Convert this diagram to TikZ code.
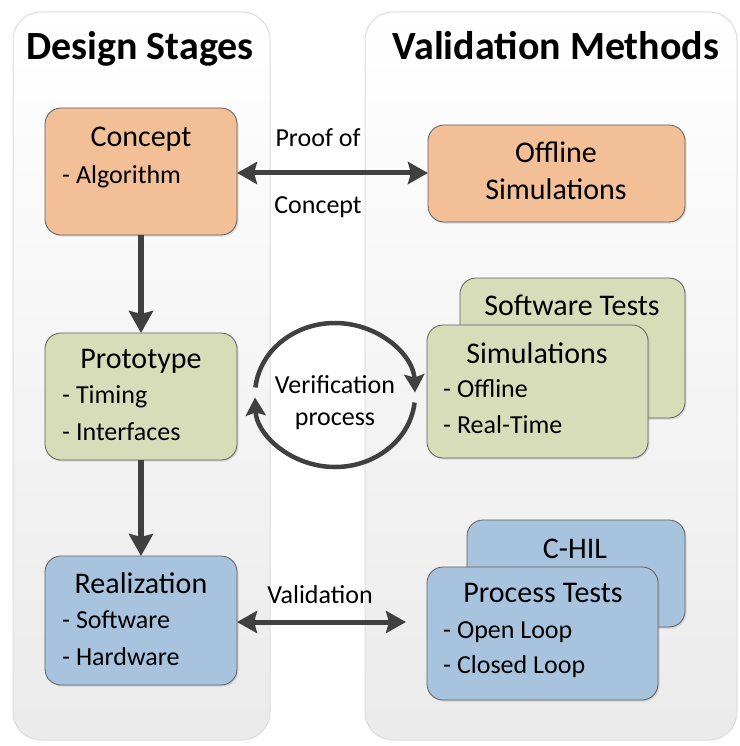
\documentclass[tikz,border=0pt]{standalone}
\usepackage{fontspec}
\setmainfont{Carlito}
\usetikzlibrary{arrows.meta,shadows}
\definecolor{orangefill}{RGB}{243,191,151}
\definecolor{greenfill}{RGB}{216,221,185}
\definecolor{bluefill}{RGB}{167,195,222}
\definecolor{boxline}{RGB}{95,95,95}
\definecolor{arrowcol}{RGB}{64,64,64}
\definecolor{panelline}{RGB}{220,220,220}
\tikzset{
  panel/.style={draw=panelline, line width=1pt, rounded corners=28pt, top color=white, bottom color=black!8},
  box/.style={draw=boxline, line width=0.8pt, rounded corners=16pt, drop shadow={shadow xshift=1.5pt, shadow yshift=-1.5pt, opacity=0.25}},
  heading/.style={font=\fontsize{40}{44}\selectfont\bfseries, anchor=base, inner sep=0pt},
  ttl/.style={font=\fontsize{30}{34}\selectfont, anchor=base, inner sep=0pt},
  itm/.style={font=\fontsize{26}{30}\selectfont, anchor=base west, inner sep=0pt},
  lbl/.style={font=\fontsize{26}{30}\selectfont, anchor=base, inner sep=0pt},
  flow/.style={draw=arrowcol, line width=6pt, -{Stealth[length=22pt,width=24pt,inset=3pt]}},
  both/.style={draw=arrowcol, line width=5pt, {Stealth[length=20pt,width=22pt,inset=3pt]}-{Stealth[length=20pt,width=22pt,inset=3pt]}},
  cyc/.style={draw=arrowcol, line width=4.5pt, -{Stealth[length=18pt,width=20pt,inset=3pt]}}
}
\begin{document}
\begin{tikzpicture}[x=1pt,y=-1pt]
\useasboundingbox (0,0) rectangle (739,746);
% panels
\path[panel] (13,12) rectangle (270,740);
\path[panel] (365,12) rectangle (737,740);
\node[heading] (h1) at (140,60) {Design Stages};
\node[heading] (h2) at (556,60) {Validation Methods};
% left boxes
\path[box, fill=orangefill] (45,108) rectangle (237,235);
\coordinate (concN) at (141,235);
\node[ttl] (conct) at (141,147) {Concept};
\node[itm] (conci) at (62,183) {- Algorithm};
\path[box, fill=greenfill] (45,333) rectangle (237,460);
\node[ttl] (protot) at (141,368) {Prototype};
\node[itm] (proti1) at (62,403) {- Timing};
\node[itm] (proti2) at (62,440) {- Interfaces};
\path[box, fill=bluefill] (45,556) rectangle (237,685);
\node[ttl] (realt) at (141,593) {Realization};
\node[itm] (reali1) at (62,628) {- Software};
\node[itm] (reali2) at (62,665) {- Hardware};
% right boxes
\path[box, fill=orangefill] (428,125) rectangle (685,222);
\node[ttl] (off1) at (556,163) {Offline};
\node[ttl] (off2) at (556,200) {Simulations};
\path[box, fill=greenfill] (460,278) rectangle (685,418);
\node[ttl] (swt) at (572,315) {Software Tests};
\path[box, fill=greenfill] (427,325) rectangle (648,458);
\node[ttl] (simt) at (537,363) {Simulations};
\node[itm] (simi1) at (443,397) {- Offline};
\node[itm] (simi2) at (443,433) {- Real-Time};
\path[box, fill=bluefill] (467,520) rectangle (685,627);
\node[ttl] (chil) at (575,558) {C-HIL};
\path[box, fill=bluefill] (427,567) rectangle (658,700);
\node[ttl] (proct) at (543,602) {Process Tests};
\node[itm] (proci1) at (443,638) {- Open Loop};
\node[itm] (proci2) at (443,673) {- Closed Loop};
% connectors
\coordinate (a1s) at (141,235);
\coordinate (a1e) at (141,333);
\coordinate (a2s) at (141,460);
\coordinate (a2e) at (141,556);
\draw[flow] (a1s) -- (a1e);
\draw[flow] (a2s) -- (a2e);
\coordinate (pL) at (237,173);
\coordinate (pR) at (428,173);
\draw[both] (pL) -- (pR);
\node[lbl] (poc1) at (318,147) {Proof of};
\node[lbl] (poc2) at (318,213) {Concept};
\coordinate (vL) at (237,622);
\coordinate (vR) at (406,622);
\draw[both] (vL) -- (vR);
\node[lbl] (val) at (320,603) {Validation};
% verification cycle
\coordinate (vc) at (335,395);
\draw[cyc] ([shift={(186:80 and 72)}]vc) arc[start angle=186, end angle=358, x radius=80, y radius=72];
\draw[cyc] ([shift={(6:80 and 72)}]vc) arc[start angle=6, end angle=178, x radius=80, y radius=72];
\node[lbl] (ver1) at (335,393) {Verification};
\node[lbl] (ver2) at (335,425) {process};
\end{tikzpicture}
\end{document}
